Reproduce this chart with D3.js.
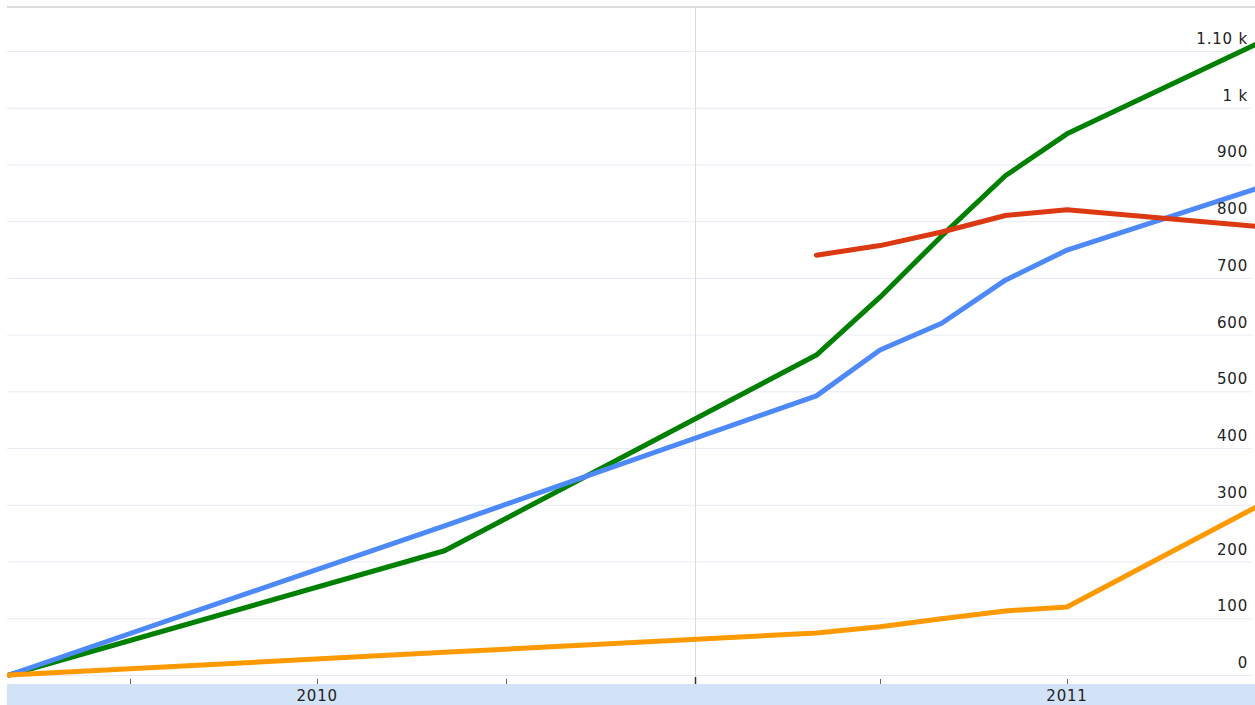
<!DOCTYPE html>
<html>
<head>
<meta charset="utf-8">
<script src="https://cdn.jsdelivr.net/npm/d3@7"></script>
<style>
  body { margin: 0; background: #fff; }
  svg { display: block; }
  text { font-family: "DejaVu Sans", Verdana, sans-serif; fill: #222; }
</style>
</head>
<body>
<svg></svg>
<script>
const width = 1255, height = 705;
const margin = { left: 7, right: 0, top: 7, bottom: 30 };

// monthly observation dates
const dates = ["2010-02-01", "2010-09-01", "2011-03-01", "2011-04-01",
               "2011-05-01", "2011-06-01", "2011-07-01", "2011-10-01"];
const green_values  = [0, 219, 564, 666, 774, 880, 954, 1112];
const blue_values   = [0, 263, 492, 573, 620, 696, 749, 857];
const red_values    = [null, null, 740, 757, 781, 810, 820, 791];
const orange_values = [0, 40, 74, 85, 99, 113, 120, 296];

const y_ticks = [0, 100, 200, 300, 400, 500, 600, 700, 800, 900, 1000, 1100];
const y_tick_labels = ["0", "100", "200", "300", "400", "500", "600", "700", "800", "900", "1 k", "1.10 k"];
const year_labels = ["2010", "2011"];

const series = [
  { name: "green", color: "#008000", values: green_values },
  { name: "blue", color: "#4d89f9", values: blue_values },
  { name: "red", color: "#dc3912", values: red_values },
  { name: "orange", color: "#ff9900", values: orange_values }
];

const parse = d3.utcParse("%Y-%m-%d");
const svg = d3.select("svg").attr("width", width).attr("height", height);

const x_scale = d3.scaleUtc()
    .domain([parse("2010-02-01"), parse("2011-10-01")])
    .range([9, 1256]);
const y_scale = d3.scaleLinear().domain([0, 1100]).range([675, 51]);

const plot_bottom = 684;

// clip
svg.append("clipPath").attr("id", "plot")
  .append("rect")
  .attr("x", margin.left).attr("y", margin.top)
  .attr("width", width - margin.left).attr("height", plot_bottom - margin.top);

// horizontal grid
svg.append("g")
  .selectAll("line")
  .data(y_ticks)
  .join("line")
  .attr("x1", margin.left).attr("x2", 1252)
  .attr("y1", (d) => y_scale(d) + 0.5).attr("y2", (d) => y_scale(d) + 0.5)
  .attr("stroke", "#eaeaf6");

// top border
svg.append("line")
  .attr("x1", margin.left).attr("x2", width)
  .attr("y1", 7).attr("y2", 7)
  .attr("stroke", "#dcdcdc").attr("stroke-width", 2);

// year boundary
const year_start = parse("2011-01-01");
svg.append("line")
  .attr("x1", Math.round(x_scale(year_start)) + 0.5).attr("x2", Math.round(x_scale(year_start)) + 0.5)
  .attr("y1", 7).attr("y2", plot_bottom)
  .attr("stroke", "#dcdcdc");

// x axis band
svg.append("rect")
  .attr("x", margin.left).attr("y", plot_bottom)
  .attr("width", width - margin.left).attr("height", height - plot_bottom)
  .attr("fill", "#d3e3f7");

// quarterly ticks
const quarter_ticks = d3.utcMonth.every(3).range(parse("2010-04-01"), parse("2011-10-02"));
svg.append("g")
  .selectAll("line")
  .data(quarter_ticks)
  .join("line")
  .attr("x1", (d) => Math.round(x_scale(d)) + 0.5)
  .attr("x2", (d) => Math.round(x_scale(d)) + 0.5)
  .attr("y1", (d) => d.getUTCMonth() === 0 ? 677 : 679)
  .attr("y2", plot_bottom)
  .attr("stroke", (d) => d.getUTCMonth() === 0 ? "#333" : "#666")
  .attr("stroke-width", (d) => d.getUTCMonth() === 0 ? 1.5 : 1);

// year labels, centred in each year
svg.append("g")
  .selectAll("text")
  .data(year_labels)
  .join("text")
  .attr("x", (d) => x_scale(parse(d + "-07-01")))
  .attr("y", 701)
  .attr("text-anchor", "middle")
  .style("font-size", "15px")
  .style("letter-spacing", "0.8px")
  .text((d) => d);

// lines
const line_generator = d3.line()
    .defined((d) => d.v != null)
    .x((d) => x_scale(d.date))
    .y((d) => y_scale(d.v));

svg.append("g")
  .attr("clip-path", "url(#plot)")
  .selectAll("path")
  .data(series)
  .join("path")
  .attr("fill", "none")
  .attr("stroke", (d) => d.color)
  .attr("stroke-width", 5)
  .attr("stroke-linejoin", "round")
  .attr("stroke-linecap", "round")
  .attr("d", (s) => line_generator(s.values.map((v, i) => ({ date: parse(dates[i]), v }))));

// y labels on the right
svg.append("g")
  .selectAll("text")
  .data(y_ticks)
  .join("text")
  .attr("x", 1248)
  .attr("y", (d) => y_scale(d) - 7)
  .attr("text-anchor", "end")
  .style("font-size", "15px")
  .style("letter-spacing", "0.8px")
  .text((d, i) => y_tick_labels[i]);
</script>
</body>
</html>
